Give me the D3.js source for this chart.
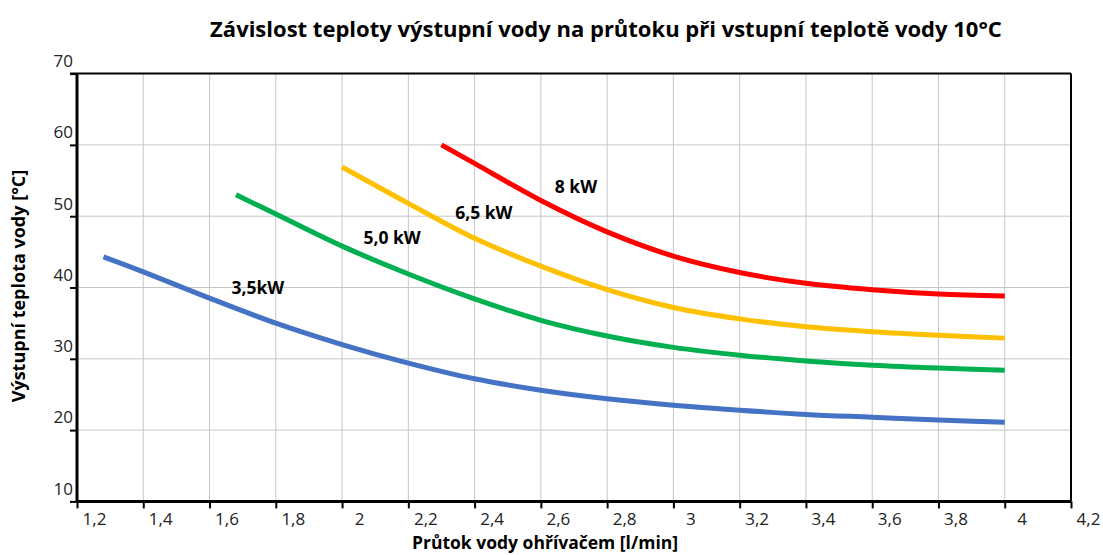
<!DOCTYPE html>
<html>
<head>
<meta charset="utf-8">
<script src="https://cdn.jsdelivr.net/npm/d3@7"></script>
<style>
  body { margin: 0; background: #fff; }
  svg { font-family: "Open Sans", Lato, sans-serif; }
</style>
</head>
<body>
<svg id="chart" width="1103" height="555"></svg>
<script>
// data
var xTicks = [1.2, 1.4, 1.6, 1.8, 2, 2.2, 2.4, 2.6, 2.8, 3, 3.2, 3.4, 3.6, 3.8, 4, 4.2]
var yTicks = [10, 20, 30, 40, 50, 60, 70]

var flow35 = [1.28, 1.4, 1.6, 1.8, 2.0, 2.2, 2.4, 2.6, 2.8, 3.0, 3.2, 3.4, 3.6, 3.8, 4.0]
var temp35 = [44.3, 42.2, 38.5, 35.0, 32.0, 29.4, 27.2, 25.6, 24.4, 23.5, 22.8, 22.2, 21.8, 21.4, 21.1]

var flow50 = [1.68, 1.8, 2.0, 2.2, 2.4, 2.6, 2.8, 3.0, 3.2, 3.4, 3.6, 3.8, 4.0]
var temp50 = [53.0, 50.3, 45.8, 41.9, 38.4, 35.4, 33.2, 31.6, 30.5, 29.7, 29.1, 28.7, 28.4]

var flow65 = [2.0, 2.2, 2.4, 2.6, 2.8, 3.0, 3.2, 3.4, 3.6, 3.8, 4.0]
var temp65 = [56.9, 51.8, 46.9, 43.0, 39.7, 37.2, 35.6, 34.5, 33.8, 33.3, 32.9]

var flow80 = [2.3, 2.4, 2.6, 2.8, 3.0, 3.2, 3.4, 3.6, 3.8, 4.0]
var temp80 = [60.0, 57.4, 52.2, 47.8, 44.4, 42.1, 40.6, 39.7, 39.1, 38.8]

var seriesNames = ['3,5kW', '5,0 kW', '6,5 kW', '8 kW']
var seriesColors = ['#4472C4', '#00B050', '#FFC000', '#FF0000']
// label anchor points (in data units)
var labelX = [1.746, 2.151, 2.428, 2.706]
var labelY = [40.1, 47.1, 50.6, 54.2]

var series = [
  d3.zip(flow35, temp35),
  d3.zip(flow50, temp50),
  d3.zip(flow65, temp65),
  d3.zip(flow80, temp80)
]

//
// Layout
//
var plotLeft = 77, plotRight = 1071, plotTop = 73.6, plotBottom = 501.4

var svg = d3.select('#chart')
var x = d3.scaleLinear().domain([1.2, 4.2]).range([plotLeft, plotRight])
var y = d3.scaleLinear().domain([10, 70]).range([plotBottom, plotTop])

// title
svg.append('text')
  .attr('x', 606).attr('y', 37)
  .attr('text-anchor', 'middle')
  .attr('font-size', 22)
  .attr('font-weight', 'bold')
  .text('Závislost teploty výstupní vody na průtoku při vstupní teplotě vody 10°C')

// grid
svg.append('g').selectAll('line')
  .data(xTicks.filter(function(d) { return d > 1.2 && d < 4.2 }))
  .join('line')
  .attr('x1', function(d) { return x(d) }).attr('x2', function(d) { return x(d) })
  .attr('y1', plotTop).attr('y2', plotBottom)
  .attr('stroke', '#c6c6c6').attr('stroke-width', 1)

svg.append('g').selectAll('line')
  .data(yTicks.filter(function(d) { return d > 10 && d < 70 }))
  .join('line')
  .attr('x1', plotLeft).attr('x2', plotRight)
  .attr('y1', function(d) { return y(d) }).attr('y2', function(d) { return y(d) })
  .attr('stroke', '#c6c6c6').attr('stroke-width', 1)

// axes
var xAxis = d3.axisBottom(x).tickValues(xTicks).tickSize(7)
  .tickFormat(function(d) { return String(d).replace('.', ',') })
var gx = svg.append('g').attr('transform', 'translate(0,' + plotBottom + ')').call(xAxis)
gx.select('.domain').remove()
gx.selectAll('line').attr('stroke', '#000').attr('stroke-width', 2)
gx.selectAll('text').attr('dx', 17).attr('y', 12).attr('font-size', 17)
  .attr('font-family', '"Open Sans", sans-serif').attr('fill', '#222')

var yAxis = d3.axisLeft(y).tickValues(yTicks).tickSize(7)
var gy = svg.append('g').attr('transform', 'translate(' + plotLeft + ',0)').call(yAxis)
gy.select('.domain').remove()
gy.selectAll('line').attr('stroke', '#000').attr('stroke-width', 2)
gy.selectAll('text').attr('x', -4).attr('dy', '-0.42em').attr('font-size', 17)
  .attr('font-family', '"Open Sans", sans-serif').attr('fill', '#222')

// frame
svg.append('line').attr('x1', plotLeft - 7).attr('x2', plotRight).attr('y1', plotTop).attr('y2', plotTop)
  .attr('stroke', '#000').attr('stroke-width', 2)
svg.append('line').attr('x1', plotLeft).attr('x2', plotLeft).attr('y1', plotTop).attr('y2', plotBottom)
  .attr('stroke', '#000').attr('stroke-width', 3)
svg.append('line').attr('x1', plotLeft).attr('x2', plotRight).attr('y1', plotBottom).attr('y2', plotBottom)
  .attr('stroke', '#000').attr('stroke-width', 3)
svg.append('line').attr('x1', plotRight).attr('x2', plotRight).attr('y1', plotTop).attr('y2', plotBottom)
  .attr('stroke', '#000').attr('stroke-width', 2)

// curves
var line = d3.line()
  .x(function(d) { return x(d[0]) })
  .y(function(d) { return y(d[1]) })
  .curve(d3.curveCatmullRom.alpha(0.5))

svg.append('g').selectAll('path')
  .data(series)
  .join('path')
  .attr('d', line)
  .attr('fill', 'none')
  .attr('stroke', function(d, i) { return seriesColors[i] })
  .attr('stroke-width', 5)
  .attr('stroke-linecap', 'butt')

// series labels
svg.append('g').selectAll('text')
  .data(seriesNames)
  .join('text')
  .attr('x', function(d, i) { return x(labelX[i]) })
  .attr('y', function(d, i) { return y(labelY[i]) })
  .attr('text-anchor', 'middle')
  .attr('dominant-baseline', 'central')
  .attr('font-size', 17.5)
  .attr('font-weight', 'bold')
  .text(function(d) { return d })

// axis titles
svg.append('text')
  .attr('x', 545).attr('y', 549)
  .attr('text-anchor', 'middle')
  .attr('font-size', 17.5)
  .attr('font-weight', 'bold')
  .text('Průtok vody ohřívačem [l/min]')

svg.append('text')
  .attr('transform', 'translate(25,286) rotate(-90)')
  .attr('text-anchor', 'middle')
  .attr('font-size', 18)
  .attr('font-weight', 'bold')
  .text('Výstupní teplota vody [°C]')
</script>
</body>
</html>
